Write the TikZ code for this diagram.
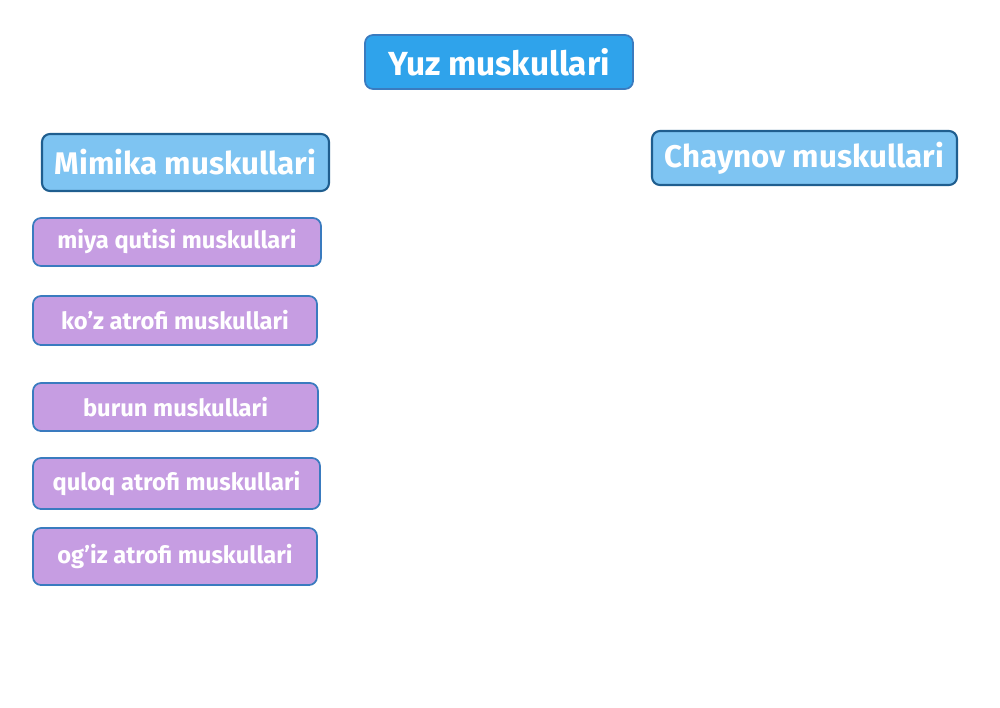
\documentclass[tikz,border=0pt]{standalone}
\usepackage{fontspec}
\setmainfont{Fira Sans}
\usepackage{tikz}
\usetikzlibrary{positioning}
\definecolor{topblue}{HTML}{2FA3EB}
\definecolor{midblue}{HTML}{7EC4F2}
\definecolor{darkedge}{HTML}{1F5E8F}
\definecolor{lilac}{HTML}{C69DE2}
\definecolor{lilacedge}{HTML}{3A7BBF}

\begin{document}
\begin{tikzpicture}[
	box/.style={rounded corners=0.16cm, line width=1pt, text=white, font=\bfseries, inner sep=0pt, align=center},
	headbox/.style={box, fill=topblue, draw=lilacedge, font=\fontsize{19}{22}\selectfont\bfseries},
	groupbox/.style={box, fill=midblue, draw=darkedge, line width=1.2pt, font=\fontsize{17.8}{21}\selectfont\bfseries},
	musclebox/.style={box, fill=lilac, draw=lilacedge, font=\fontsize{13.5}{16}\selectfont\bfseries}]

			\useasboundingbox (0,0) rectangle (20,-14.14);

			\node[headbox, minimum width=5.36cm, minimum height=1.08cm] (yuz) at (9.98,-1.24) {Yuz muskullari};
			\node[groupbox, minimum width=5.74cm, minimum height=1.14cm] (mimika) at (3.71,-3.25) {Mimika muskullari};
			\node[groupbox, minimum width=6.10cm, minimum height=1.08cm] (chaynov) at (16.09,-3.16) {Chaynov muskullari};

			\node[musclebox, minimum width=5.76cm, minimum height=0.96cm] (miya) at (3.54,-4.84) {miya qutisi muskullari};
			\node[musclebox, minimum width=5.68cm, minimum height=0.98cm] (koz) at (3.50,-6.41) {ko’z atrofi muskullari};
			\node[musclebox, minimum width=5.70cm, minimum height=0.96cm] (burun) at (3.51,-8.14) {burun muskullari};
			\node[musclebox, minimum width=5.74cm, minimum height=1.02cm] (quloq) at (3.53,-9.67) {quloq atrofi muskullari};
			\node[musclebox, minimum width=5.68cm, minimum height=1.14cm] (ogiz) at (3.50,-11.13) {og’iz atrofi muskullari};

			\end{tikzpicture}
\end{document}
